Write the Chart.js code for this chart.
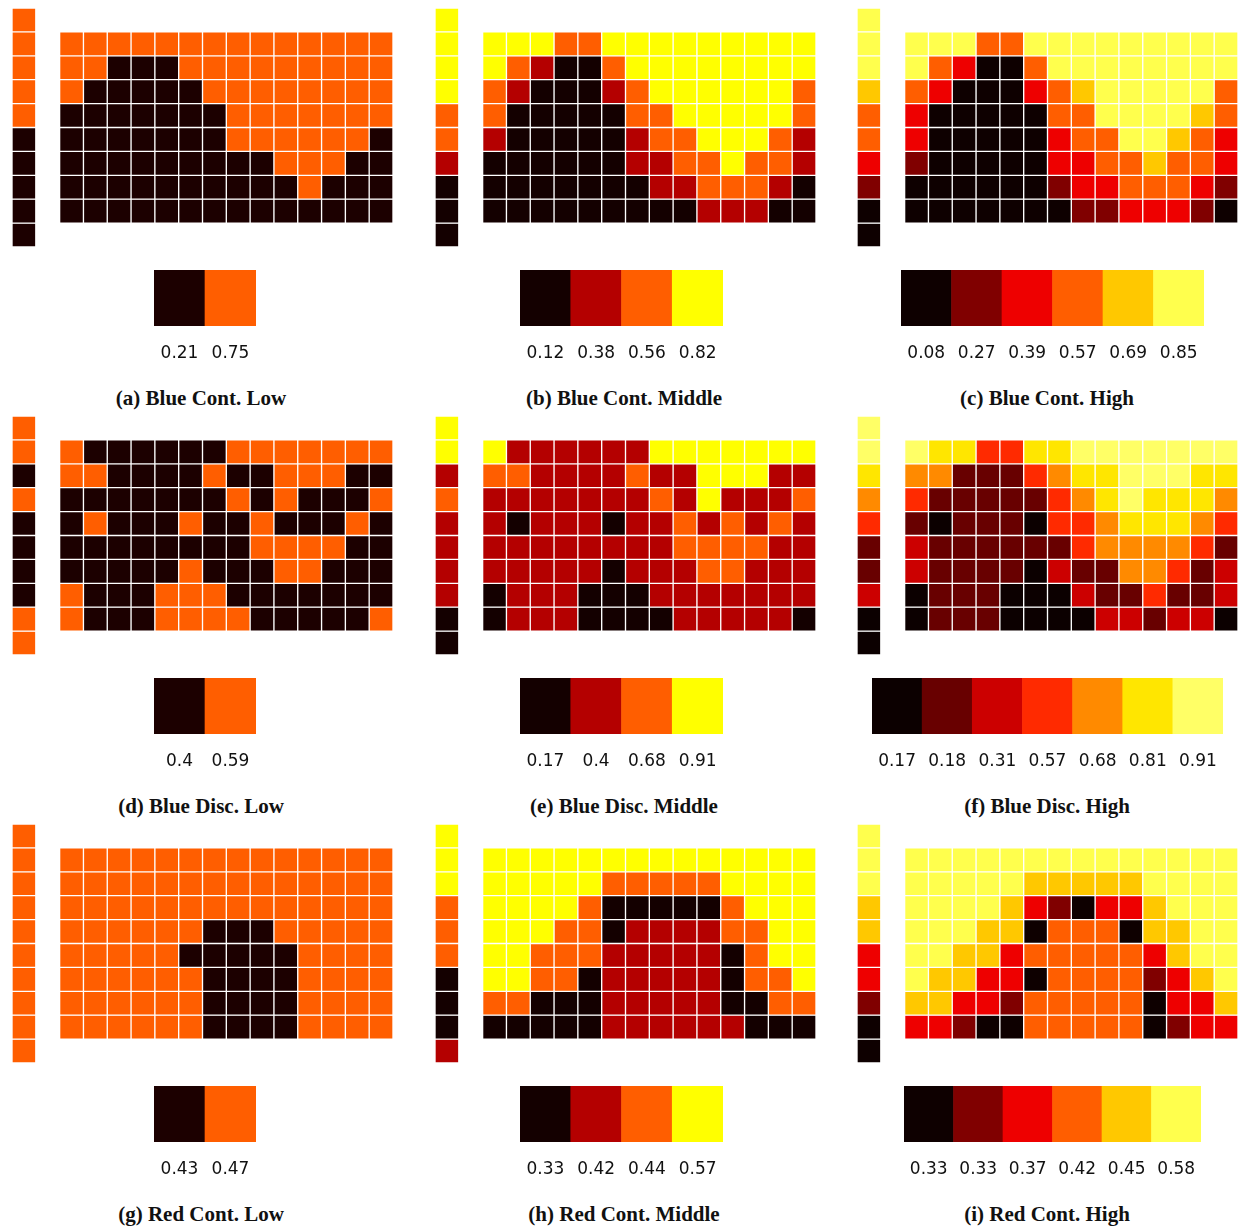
<!DOCTYPE html>
<html>
<head>
<meta charset="utf-8">
<script src="https://cdn.jsdelivr.net/npm/chart.js@4.4.1/dist/chart.umd.min.js"></script>
<style>
  body { margin: 0; background: #fff; }
  #page { position: relative; width: 1238px; height: 1228px; overflow: hidden; }
  canvas { position: absolute; }
  .caption {
    position: absolute; width: 400px; text-align: center;
    font: bold 21px "Liberation Serif", serif; color: #111;
    line-height: 24px; white-space: nowrap;
  }
</style>
</head>
<body>
<div id="page"></div>
<script>
// colour scales (hot colormap steps)
const hot2 = ['#1c0000', '#ff5e00'];
const hot4 = ['#140000', '#b40000', '#ff5e00', '#ffff00'];
const hot6 = ['#0e0000', '#800000', '#ee0000', '#ff5e00', '#ffc800', '#ffff4d'];
const hot7 = ['#0c0000', '#680000', '#cc0000', '#ff2a00', '#ff8a00', '#ffe600', '#ffff66'];

// (a) Blue Cont. Low
const levelsA = ['0.21', '0.75'];
const sideA = [1, 1, 1, 1, 1, 0, 0, 0, 0, 0];
const gridA = [
  '11111111111111',
  '11000111111111',
  '10000011111111',
  '00000001111111',
  '00000001111110',
  '00000000011100',
  '00000000001000',
  '00000000000000'
];

// (b) Blue Cont. Middle
const levelsB = ['0.12', '0.38', '0.56', '0.82'];
const sideB = [3, 3, 3, 3, 2, 2, 1, 0, 0, 0];
const gridB = [
  '33322333333333',
  '32100233333333',
  '21000123333332',
  '20000022333332',
  '10000012233321',
  '00000011223221',
  '00000001122210',
  '00000000011100'
];

// (c) Blue Cont. High
const levelsC = ['0.08', '0.27', '0.39', '0.57', '0.69', '0.85'];
const sideC = [5, 5, 5, 4, 3, 3, 2, 1, 0, 0];
const gridC = [
  '55533555555555',
  '53200355555555',
  '32000234555553',
  '20000033555543',
  '20000023355432',
  '10000022334332',
  '00000012233321',
  '00000001122210'
];

// (d) Blue Disc. Low
const levelsD = ['0.4', '0.59'];
const sideD = [1, 1, 0, 1, 0, 0, 0, 0, 1, 1];
const gridD = [
  '10000001111111',
  '11000010011100',
  '00000001010001',
  '01000100100010',
  '00000000111100',
  '00000100011000',
  '10001110000000',
  '10001111000001'
];

// (e) Blue Disc. Middle
const levelsE = ['0.17', '0.4', '0.68', '0.91'];
const sideE = [3, 3, 1, 2, 1, 1, 1, 1, 0, 0];
const gridE = [
  '31111113333333',
  '22111121133311',
  '11111112131112',
  '10111011212121',
  '11111111222211',
  '11111011122111',
  '01110001111111',
  '01110000111110'
];

// (f) Blue Disc. High
const levelsF = ['0.17', '0.18', '0.31', '0.57', '0.68', '0.81', '0.91'];
const sideF = [6, 6, 5, 4, 3, 1, 1, 2, 0, 0];
const gridF = [
  '65533556666666',
  '44111345566655',
  '31111134565554',
  '10111033455543',
  '21111113444431',
  '21111021144312',
  '01110002113112',
  '01110000221220'
];

// (g) Red Cont. Low
const levelsG = ['0.43', '0.47'];
const sideG = [1, 1, 1, 1, 1, 1, 1, 1, 1, 1];
const gridG = [
  '11111111111111',
  '11111111111111',
  '11111111111111',
  '11111100011111',
  '11111000001111',
  '11111100001111',
  '11111100001111',
  '11111100001111'
];

// (h) Red Cont. Middle
const levelsH = ['0.33', '0.42', '0.44', '0.57'];
const sideH = [3, 3, 3, 2, 2, 2, 0, 0, 0, 1];
const gridH = [
  '33333333333333',
  '33333222223333',
  '33332000002333',
  '33322011112233',
  '33222111110233',
  '33220111110223',
  '22000111110022',
  '00000111111000'
];

// (i) Red Cont. High
const levelsI = ['0.33', '0.33', '0.37', '0.42', '0.45', '0.58'];
const sideI = [5, 5, 5, 4, 4, 2, 2, 1, 0, 0];
const gridI = [
  '55555555555555',
  '55555444445555',
  '55554210224555',
  '55544033304455',
  '55442333332455',
  '54422033331245',
  '44221333330224',
  '22100333330122'
];

const captions = [
  '(a) Blue Cont. Low', '(b) Blue Cont. Middle', '(c) Blue Cont. High',
  '(d) Blue Disc. Low', '(e) Blue Disc. Middle', '(f) Blue Disc. High',
  '(g) Red Cont. Low', '(h) Red Cont. Middle', '(i) Red Cont. High'
];

// layout
const colLeft = [12, 435, 857];
const rowTop = [8, 416, 824];
const captionCenter = [201, 624, 1047];
const legendLeft = [154, 520, 901, 154, 520, 872, 154, 520, 904];
const legendWidth = [102, 203, 303, 102, 203, 351, 102, 203, 297];

const page = document.getElementById('page');

function makeCanvas(left, top, w, h) {
  const c = document.createElement('canvas');
  c.width = w;
  c.height = h;
  c.style.left = left + 'px';
  c.style.top = top + 'px';
  c.style.width = w + 'px';
  c.style.height = h + 'px';
  page.appendChild(c);
  return c;
}

// heatmap + side column in one bar chart: column 0 = side, column 1 = gap
function drawHeat(left, top, side, grid, colors) {
  const cols = 16;
  const datasets = [];
  for (let r = 0; r < side.length; r++) {
    const data = [];
    const bg = [];
    for (let c = 0; c < cols; c++) {
      let cls = null;
      if (c === 0) cls = side[r];
      else if (c >= 2 && r >= 1 && r <= grid.length) cls = Number(grid[r - 1][c - 2]);
      data.push(cls === null ? null : [r, r + 1]);
      bg.push(cls === null ? 'rgba(0,0,0,0)' : colors[cls]);
    }
    datasets.push({
      data: data,
      backgroundColor: bg,
      borderColor: '#ffffff',
      borderWidth: 1,
      borderSkipped: false,
      grouped: false,
      barPercentage: 1,
      categoryPercentage: 1
    });
  }
  new Chart(makeCanvas(left, top, 381, 239), {
    type: 'bar',
    data: { labels: Array.from({ length: cols }, (_, i) => i), datasets: datasets },
    options: {
      responsive: false,
      animation: false,
      events: [],
      layout: { padding: 0 },
      plugins: { legend: { display: false }, tooltip: { enabled: false } },
      scales: {
        x: { display: false },
        y: { display: false, min: 0, max: side.length, reverse: true }
      }
    }
  });
}

// colour legend with value labels under each box
function drawLegend(left, top, width, levels, colors) {
  new Chart(makeCanvas(left, top, width, 106), {
    type: 'bar',
    data: {
      labels: levels,
      datasets: [{
        data: levels.map(() => [0, 1]),
        backgroundColor: colors.slice(0, levels.length),
        borderWidth: 0,
        barPercentage: 1,
        categoryPercentage: 1
      }]
    },
    options: {
      responsive: false,
      animation: false,
      events: [],
      layout: { padding: 0 },
      plugins: { legend: { display: false }, tooltip: { enabled: false } },
      scales: {
        x: {
          // tick marks are hidden, their length only pushes the labels down
          grid: { display: false, drawTicks: true, tickLength: 17 },
          border: { display: false },
          ticks: {
            padding: 0,
            color: '#111',
            autoSkip: false,
            maxRotation: 0,
            font: { family: 'DejaVu Sans', size: 17 }
          },
          afterFit: function(scale) { scale.height = 50; }
        },
        y: { display: false, min: 0, max: 1 }
      }
    }
  });
}

const panelSides = [sideA, sideB, sideC, sideD, sideE, sideF, sideG, sideH, sideI];
const panelGrids = [gridA, gridB, gridC, gridD, gridE, gridF, gridG, gridH, gridI];
const panelLevels = [levelsA, levelsB, levelsC, levelsD, levelsE, levelsF, levelsG, levelsH, levelsI];
const panelColors = [hot2, hot4, hot6, hot2, hot4, hot7, hot2, hot4, hot6];

for (let i = 0; i < 9; i++) {
  const col = i % 3;
  const row = Math.floor(i / 3);
  const top = rowTop[row];
  drawHeat(colLeft[col], top, panelSides[i], panelGrids[i], panelColors[i]);
  drawLegend(legendLeft[i], top + 262, legendWidth[i], panelLevels[i], panelColors[i]);

  const cap = document.createElement('div');
  cap.className = 'caption';
  cap.textContent = captions[i];
  cap.style.left = (captionCenter[col] - 200) + 'px';
  cap.style.top = (top + 378) + 'px';
  page.appendChild(cap);
}
</script>
</body>
</html>
